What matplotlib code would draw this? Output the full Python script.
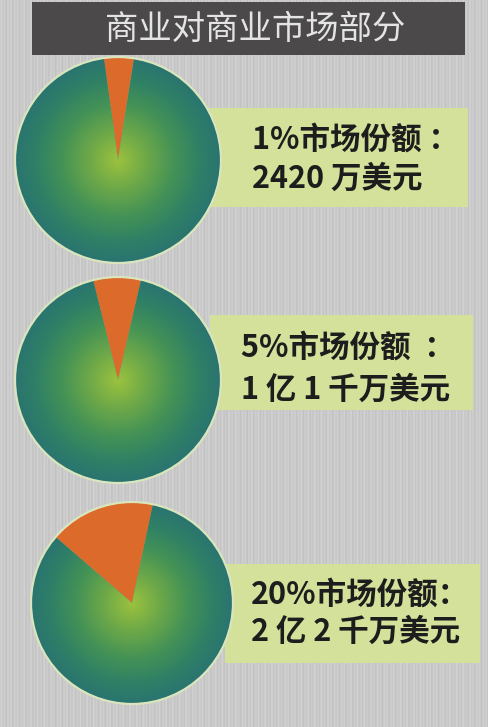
import numpy as np
import matplotlib
matplotlib.use("Agg")
import matplotlib.pyplot as plt
from matplotlib.patches import Rectangle, Circle
from matplotlib.colors import LinearSegmentedColormap

plt.rcParams['font.family'] = ['Noto Sans CJK SC', 'DejaVu Sans']

# ---- data ----
title = "商业对商业市场部分"
share_pct = [1, 5, 20]                 # stated market shares
slice_drawn_pct = [4.7, 7.5, 17.0]     # orange slice size as drawn in the graphic
label_line1 = ["1%市场份额 ：", "5%市场份额  ：", "20%市场份额："]
label_line2 = ["2420 万美元", "1 亿 1 千万美元", "2 亿 2 千万美元"]

# ---- layout (pixel coords, origin top-left) ----
W, H = 489, 727
pie_centers = [(118, 160), (118, 380), (132, 603)]
pie_radius = [103, 103, 101]
start_angles = [81, 77, 78]
boxes = [(205, 108, 468, 207), (210, 315, 473, 410), (225, 564, 480, 663)]
text_x = [252, 241, 251]
text_y = [(140, 179), (348, 390), (595, 632)]

fig = plt.figure(figsize=(W / 100, H / 100), dpi=100)
ax = fig.add_axes([0, 0, 1, 1])
Y = lambda y: H - y

# background with faint vertical texture
xs = np.arange(W)
stripe = 202 + 6 * np.sin(xs * 2 * np.pi / 3.3) + 3 * np.sin(xs * 2 * np.pi / 7.1)
bg = np.tile(stripe, (H, 1))
ax.imshow(bg, extent=(0, W, 0, H), cmap='gray', vmin=0, vmax=255, zorder=0,
          aspect='auto', origin='lower')

# title bar
ax.add_patch(Rectangle((32, Y(55)), 433, 53, facecolor='#4b4949', edgecolor='none', zorder=1))
ax.text(255, Y(29), title, color='#e4e4e4', fontsize=24, ha='center', va='center', zorder=5)

# label boxes
for (x0, y0, x1, y1) in boxes:
    ax.add_patch(Rectangle((x0, Y(y1)), x1 - x0, y1 - y0, facecolor='#d3e19b',
                           edgecolor='none', zorder=1))

cmap = LinearSegmentedColormap.from_list(
    'g', [(0.0, '#9cc23e'), (0.25, '#72ab47'), (0.55, '#449256'), (0.8, '#2f8066'), (1.0, '#2a7470')])

for i, ((cx, cy), r, st) in enumerate(zip(pie_centers, pie_radius, start_angles)):
    s = slice_drawn_pct[i]
    wedges, _ = ax.pie([s, 100 - s], colors=['#dc6a2b', '#3b8c5c'], startangle=st,
                       counterclock=True, center=(cx, Y(cy)), radius=r,
                       wedgeprops=dict(linewidth=0))
    for w in wedges:
        w.set_zorder(3)
    green = wedges[1]
    n = 300
    g = np.linspace(-1, 1, n)
    xx, yy = np.meshgrid(g, g)
    d = np.sqrt(xx ** 2 + yy ** 2)
    im = ax.imshow(d, extent=(cx - r, cx + r, Y(cy) - r, Y(cy) + r), origin='lower',
                   cmap=cmap, vmin=0, vmax=1, zorder=3.1, interpolation='bilinear')
    im.set_clip_path(green)
    ax.add_patch(Circle((cx, Y(cy)), r, fill=False, edgecolor='#d9e6bd', linewidth=1.6, zorder=4))

for i in range(3):
    ax.text(text_x[i], Y(text_y[i][0]), label_line1[i], fontsize=22, fontweight='bold',
            color='#1d1d1d', va='center', ha='left', zorder=5)
    ax.text(text_x[i], Y(text_y[i][1]), label_line2[i], fontsize=22, fontweight='bold',
            color='#1d1d1d', va='center', ha='left', zorder=5)

ax.set_xlim(0, W)
ax.set_ylim(0, H)
ax.set_aspect('auto')
ax.axis('off')
fig.savefig('out.png', dpi=100)
